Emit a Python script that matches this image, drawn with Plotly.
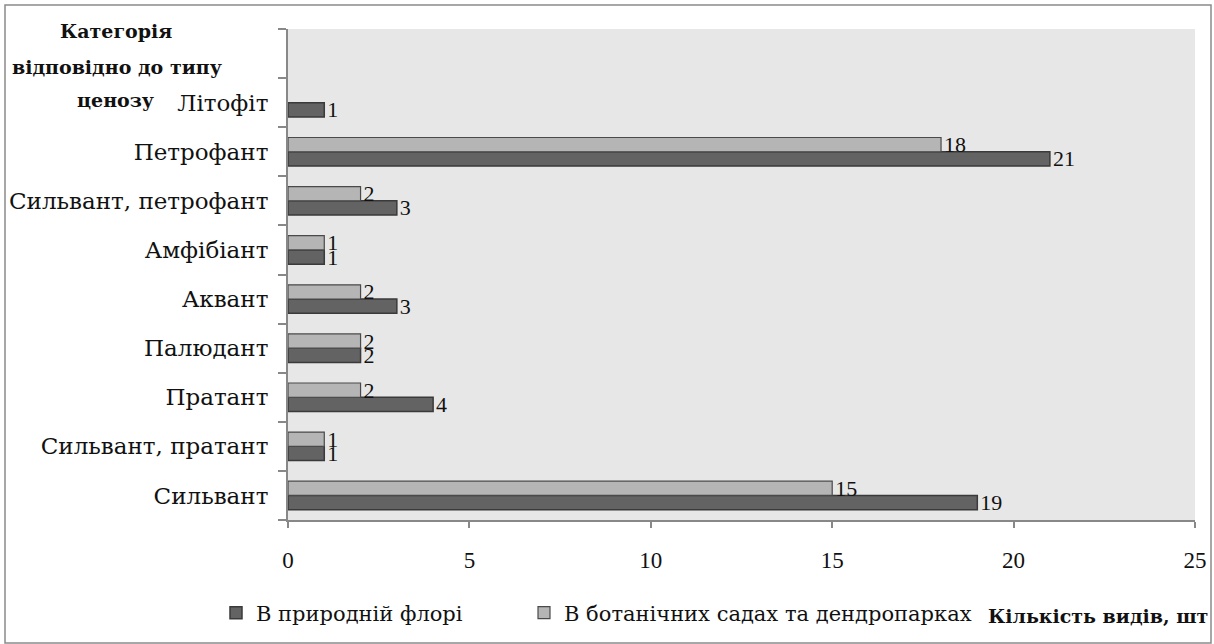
import plotly.graph_objects as go

# Cenosis categories, bottom to top; the top slot is left empty for the axis title
categories = ["Сильвант", "Сильвант, пратант", "Пратант", "Палюдант", "Аквант",
              "Амфібіант", "Сильвант, петрофант", "Петрофант", "Літофіт", " "]
natural_flora = [19, 1, 4, 2, 3, 1, 3, 21, 1, None]
botanic_gardens = [15, 1, 2, 2, 2, 1, 2, 18, None, None]
x_ticks = [0, 5, 10, 15, 20, 25]
title_lines = ["Категорія", "відповідно до типу", "ценозу"]

TEXT_FONT = "DejaVu Serif, serif"
NUM_FONT = "Liberation Serif, DejaVu Serif, serif"
W, H = 1214, 644
L, R, T, B = 288, 19, 29, 124
PW, PH = W - L - R, H - T - B


def px_x(x):
    return (x - L) / PW


def px_y(y):
    return (H - B - y) / PH


def labels(vals):
    return ["" if v is None else str(v) for v in vals]


fig = go.Figure()
fig.add_trace(go.Bar(
    y=categories, x=natural_flora, orientation="h", name="В природній флорі",
    marker=dict(color="#636363", line=dict(color="#3a3a3a", width=1.5)),
    text=labels(natural_flora), textposition="outside", constraintext="none",
    textfont=dict(family=NUM_FONT, size=22, color="#111"),
    cliponaxis=False, legend="legend2",
))
fig.add_trace(go.Bar(
    y=categories, x=botanic_gardens, orientation="h",
    name="В ботанічних садах та дендропарках",
    marker=dict(color="#b5b5b5", line=dict(color="#4a4a4a", width=1.2)),
    text=labels(botanic_gardens), textposition="outside", constraintext="none",
    textfont=dict(family=NUM_FONT, size=22, color="#111"),
    cliponaxis=False, legend="legend3",
))

legend_common = dict(orientation="h", yanchor="middle", xanchor="left",
                     font=dict(family=TEXT_FONT, size=21, color="#111"),
                     bgcolor="rgba(0,0,0,0)", itemwidth=30)

annotations = [
    dict(text=f"<b>{line}</b>", xref="paper", yref="paper",
         x=px_x(cx), y=px_y(cy), xanchor="center", yanchor="middle",
         showarrow=False, font=dict(family=TEXT_FONT, size=19, color="#111"))
    for line, cx, cy in zip(title_lines, [116, 117, 115], [31, 67, 100])
]
annotations.append(
    dict(text="<b>Кількість видів, шт</b>", xref="paper", yref="paper",
         x=px_x(1210), y=px_y(616), xanchor="right", yanchor="middle",
         showarrow=False, font=dict(family=TEXT_FONT, size=19, color="#111")))

fig.update_layout(
    width=W, height=H,
    margin=dict(l=L, r=R, t=T, b=B, autoexpand=False),
    paper_bgcolor="white", plot_bgcolor="#e7e7e7",
    barmode="group", bargap=0.42, bargroupgap=0.0,
    font=dict(family=TEXT_FONT, size=20, color="#111"),
    showlegend=True,
    legend2=dict(x=px_x(216), y=px_y(613), **legend_common),
    legend3=dict(x=px_x(524), y=px_y(613), **legend_common),
    xaxis=dict(range=[0, 25], tickvals=x_ticks, showgrid=False, zeroline=False,
               showline=True, linecolor="#888", linewidth=2, automargin=False,
               ticks="outside", ticklen=6, tickcolor="#888", tickwidth=2,
               ticklabelstandoff=12,
               tickfont=dict(family=NUM_FONT, size=23, color="#111")),
    yaxis=dict(categoryorder="array", categoryarray=categories, automargin=False,
               showgrid=False, showline=True, linecolor="#888", linewidth=2,
               ticks="outside", tickson="boundaries", ticklen=8,
               tickcolor="#888", tickwidth=2, ticklabelstandoff=13,
               tickfont=dict(family=TEXT_FONT, size=23, color="#111")),
    shapes=[dict(type="rect", xref="paper", yref="paper",
                 x0=px_x(5), x1=px_x(1211), y0=px_y(643), y1=px_y(5),
                 line=dict(color="#8a8a8a", width=1.5), layer="below")],
    annotations=annotations,
)

fig.write_html("out.html")
